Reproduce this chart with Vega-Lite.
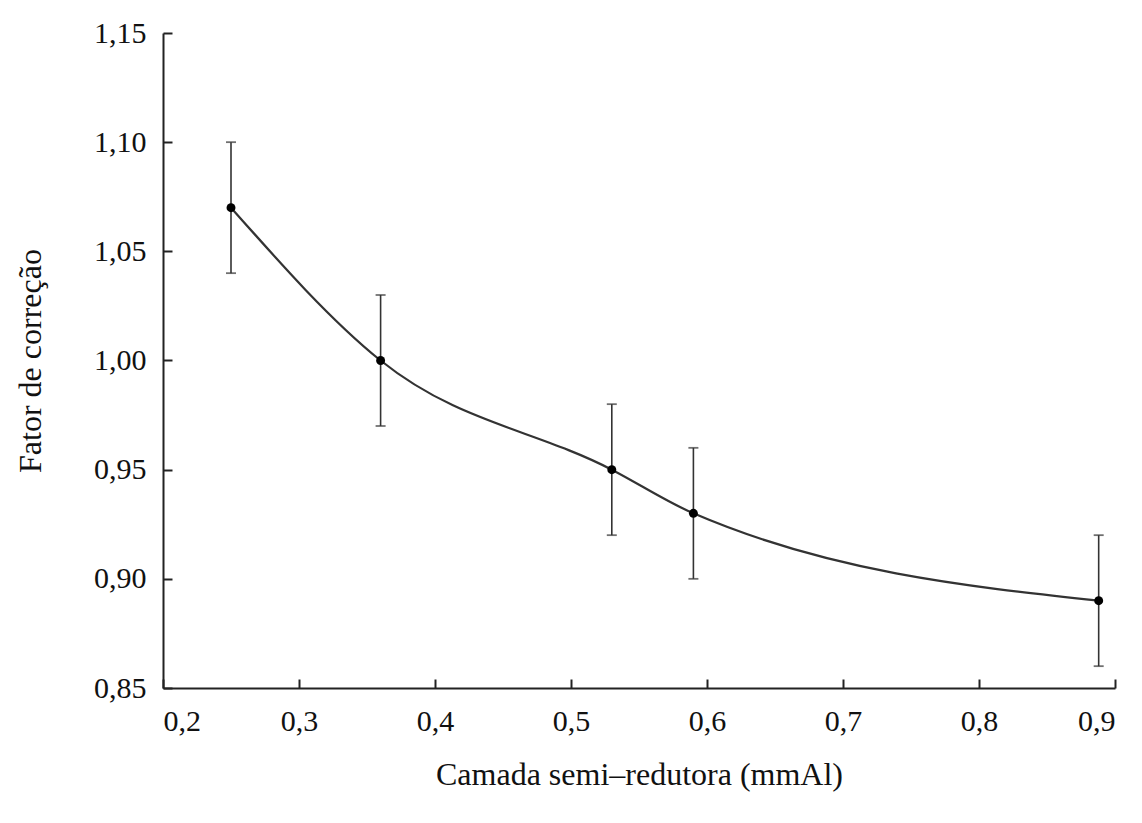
{
  "$schema": "https://vega.github.io/schema/vega-lite/v6.json",
  "autosize": "none",
  "width": 952,
  "height": 655,
  "padding": {"left": 163, "top": 33, "right": 27, "bottom": 135},
  "background": "white",
  "config": {
    "view": {"stroke": null},
    "font": "Liberation Serif",
    "axis": {
      "labelFont": "Liberation Serif",
      "titleFont": "Liberation Serif",
      "labelFontSize": 30,
      "titleFontSize": 32,
      "titleFontWeight": "normal",
      "labelColor": "#111",
      "titleColor": "#111",
      "domainColor": "#222",
      "domainWidth": 2,
      "tickColor": "#222",
      "tickWidth": 2,
      "tickSize": -9,
      "grid": false
    }
  },
  "data": {
    "values": [
      {"hvl": 0.25, "fator": 1.07, "lo": 1.04, "hi": 1.10},
      {"hvl": 0.36, "fator": 1.00, "lo": 0.97, "hi": 1.03},
      {"hvl": 0.53, "fator": 0.95, "lo": 0.92, "hi": 0.98},
      {"hvl": 0.59, "fator": 0.93, "lo": 0.90, "hi": 0.96},
      {"hvl": 0.888, "fator": 0.89, "lo": 0.86, "hi": 0.92}
    ]
  },
  "encoding": {
    "x": {
      "field": "hvl",
      "type": "quantitative",
      "scale": {"domain": [0.2, 0.9], "nice": false, "zero": false},
      "axis": {
        "title": "Camada semi–redutora (mmAl)",
        "values": [0.2, 0.3, 0.4, 0.5, 0.6, 0.7, 0.8, 0.9],
        "labelExpr": "replace(format(datum.value, '.1f'), '.', ',')",
        "labelPadding": 27,
        "titlePadding": 23
      }
    }
  },
  "layer": [
    {
      "mark": {"type": "rule", "color": "#333", "strokeWidth": 1.6},
      "encoding": {
        "y": {
          "field": "lo",
          "type": "quantitative",
          "scale": {"domain": [0.85, 1.15], "nice": false, "zero": false},
          "axis": {
            "title": "Fator de correção",
            "values": [0.85, 0.9, 0.95, 1.0, 1.05, 1.1, 1.15],
            "labelExpr": "replace(format(datum.value, '.2f'), '.', ',')",
            "labelPadding": 26,
            "titlePadding": 46
          }
        },
        "y2": {"field": "hi"}
      }
    },
    {
      "mark": {"type": "tick", "orient": "horizontal", "color": "#333", "thickness": 1.8, "size": 10},
      "encoding": {"y": {"field": "lo", "type": "quantitative"}}
    },
    {
      "mark": {"type": "tick", "orient": "horizontal", "color": "#333", "thickness": 1.8, "size": 10},
      "encoding": {"y": {"field": "hi", "type": "quantitative"}}
    },
    {
      "mark": {"type": "line", "interpolate": "monotone", "color": "#333", "strokeWidth": 2.2},
      "encoding": {"y": {"field": "fator", "type": "quantitative"}}
    },
    {
      "mark": {"type": "point", "filled": true, "color": "#000", "opacity": 1, "size": 80},
      "encoding": {"y": {"field": "fator", "type": "quantitative"}}
    }
  ]
}
